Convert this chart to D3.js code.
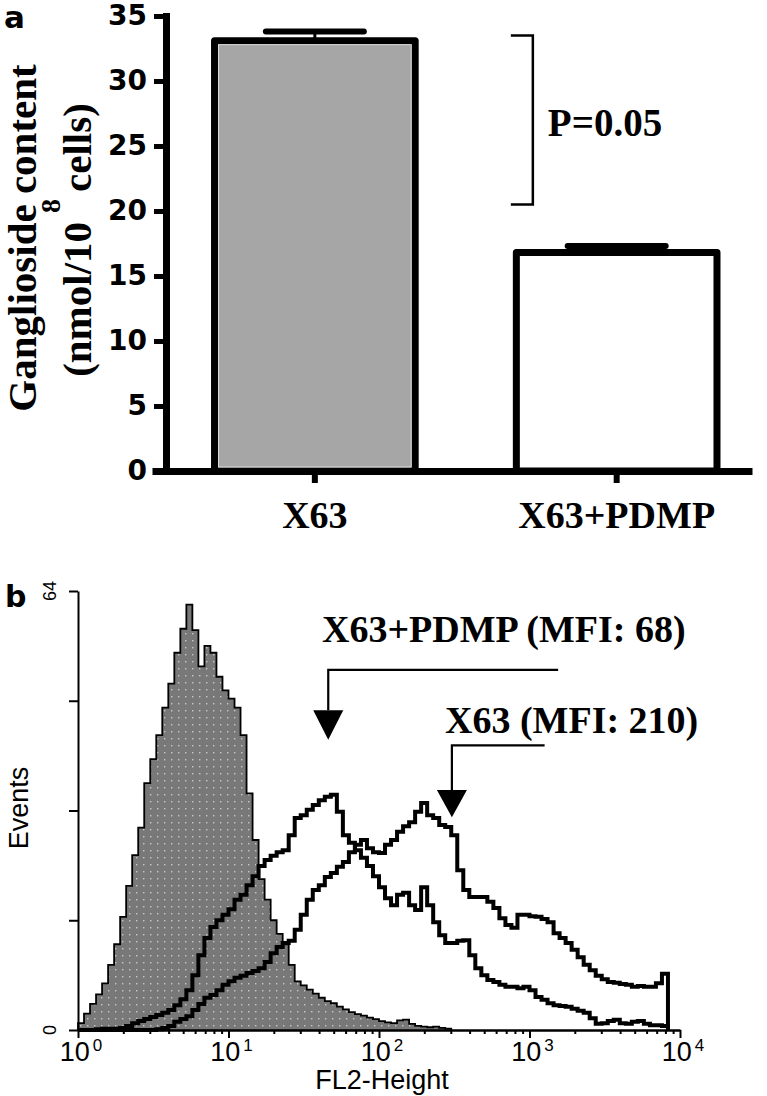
<!DOCTYPE html>
<html>
<head>
<meta charset="utf-8">
<script src="https://cdn.jsdelivr.net/npm/d3@7"></script>
<style>
body { margin: 0; background: #fff; }
svg { display: block; }
.serif { font-family: "Liberation Serif", "Times New Roman", serif; font-weight: bold; }
.sans { font-family: "Liberation Sans", Arial, sans-serif; }
.wide { font-family: "DejaVu Sans", Verdana, sans-serif; font-weight: bold; }
</style>
</head>
<body>
<svg id="fig"></svg>
<script>
// ---- panel a data
var barCategories = ["X63", "X63+PDMP"]
var barMeans = [33.1, 16.8]
var barErrors = [0.7, 0.5]
var yTicksA = [0, 5, 10, 15, 20, 25, 30, 35]
var bracketRange = [20.5, 33.5]
var pLabel = "P=0.05"

// ---- panel b data (events per channel, 100 log channels over 4 decades)
var decadeTicks = [1, 10, 100, 1000, 10000]
var decadeExponents = ["0", "1", "2", "3", "4"]
var eventTicks = [0, 16, 32, 48, 64]
var eventLabels = [0, 64]
var controlCounts = [1.0, 2.4, 3.8, 5.2, 6.8, 9.5, 12.5, 16.5, 21, 25.5,
    29.5, 36, 39.5, 43, 47, 50.5, 55, 58.5, 62, 58.3,
    53, 56, 55, 51.5, 49.5, 48.3, 47, 43, 34.5, 27.7,
    22, 19, 16, 14, 12.5, 9.5, 7.1, 6.5, 5.9, 5.3,
    4.7, 4.2, 3.9, 3.4, 3.0, 2.6, 2.3, 2.1, 1.8, 1.6,
    1.3, 1.1, 1.0, 1.4, 1.5, 0.9, 0.6, 0.5, 0.4, 0.5,
    0.3, 0.2]
var pdmpCounts = [0, 0, 0, 0.1, 0.2, 0.2, 0.2, 0.3, 0.6, 1.0,
    1.3, 1.6, 1.9, 2.2, 2.5, 2.9, 3.6, 4.5, 5.8, 8.0,
    10.9, 13.4, 15.0, 16.0, 16.8, 17.6, 19.0, 19.7, 21.1, 22.4,
    23.9, 24.8, 25.4, 25.9, 26.2, 28.4, 30.9, 31.3, 32.1, 32.8,
    33.5, 34.0, 34.3, 31.8, 28.4, 27.3, 26.2, 25.1, 23.9, 22.4,
    20.8, 19.2, 18.2, 19.7, 20.0, 18.2, 17.5, 20.8, 18.2, 15.7,
    13.8, 12.7, 12.7, 13.0, 13.1, 10.9, 9.0, 8.0, 7.3, 7.0,
    6.6, 6.3, 6.3, 6.1, 6.3, 5.8, 4.8, 4.4, 3.9, 3.6,
    3.5, 3.4, 3.1, 2.8, 2.5, 1.7, 0.9, 1.0, 1.3, 1.5,
    1.0, 0.9, 1.2, 1.3, 0.9, 0.7, 0.7, 0.6]
var x63Counts = [0, 0, 0, 0, 0, 0, 0, 0, 0, 0,
    0, 0, 0, 0.1, 0.3, 0.6, 1.2, 1.6, 2.0, 2.9,
    3.8, 4.7, 5.1, 5.8, 6.6, 7.1, 7.6, 7.9, 8.3, 8.6,
    9.0, 9.9, 11.2, 12.1, 12.7, 13.0, 14.6, 16.8, 19.0, 20.4,
    21.1, 22.3, 22.9, 23.8, 24.5, 25.9, 27.0, 27.7, 26.5, 25.9,
    25.8, 27.0, 27.7, 28.9, 29.7, 30.3, 31.8, 33.1, 31.3, 30.9,
    29.9, 29.6, 28.4, 23.3, 20.4, 19.4, 19.4, 19.4, 18.7, 17.8,
    16.3, 15.3, 14.9, 16.8, 16.8, 16.6, 16.5, 16.2, 15.7, 14.1,
    13.4, 12.7, 11.7, 10.6, 9.5, 8.7, 7.9, 7.4, 7.0, 6.9,
    6.7, 6.6, 6.3, 6.4, 6.3, 6.3, 6.8, 8.2]
var mfiLabels = ["X63+PDMP (MFI: 68)", "X63 (MFI: 210)"]
var arrowAt = [46, 305]

var svgw = 767
var svgh = 1096
var nChannels = 100

var svg = d3.select("#fig")
    .attr("width", svgw)
    .attr("height", svgh)

// ================= panel a =================
var drawPanelA = function(target)
{
    var yScale = d3.scaleLinear().domain([0, 35]).range([471, 16])
    var xScale = d3.scaleBand().domain(barCategories)
        .range([152, 752]).paddingInner(0.312).paddingOuter(0.15).align(0.652)

    // bars
    target.append("g").selectAll("rect")
        .data(barMeans)
        .enter()
        .append("rect")
        .attr("x", function(d, i){return xScale(barCategories[i]) + 3.5})
        .attr("y", function(d){return yScale(d)})
        .attr("width", xScale.bandwidth() - 7)
        .attr("height", function(d){return yScale(0) - yScale(d)})
        .attr("fill", function(d, i){return i == 0 ? "#a6a6a6" : "#ffffff"})
        .attr("stroke", "#000")
        .attr("stroke-width", 7)
        .attr("stroke-linejoin", "round")
    // faint inner edge of the grey bar
    target.append("rect")
        .attr("x", xScale(barCategories[0]) + 7.5)
        .attr("y", yScale(barMeans[0]) + 4)
        .attr("width", xScale.bandwidth() - 15)
        .attr("height", yScale(0) - yScale(barMeans[0]) - 8)
        .attr("fill", "none")
        .attr("stroke", "#dcdcdc")
        .attr("stroke-width", 1)

    // error bars
    var err = target.append("g")
    err.selectAll("line.stem")
        .data(barMeans)
        .enter()
        .append("line")
        .attr("x1", function(d, i){return xScale(barCategories[i]) + xScale.bandwidth()/2})
        .attr("x2", function(d, i){return xScale(barCategories[i]) + xScale.bandwidth()/2})
        .attr("y1", function(d){return yScale(d)})
        .attr("y2", function(d, i){return yScale(d + barErrors[i])})
        .attr("stroke", "#000").attr("stroke-width", 3)
    err.selectAll("line.cap")
        .data(barMeans)
        .enter()
        .append("line")
        .attr("x1", function(d, i){return xScale(barCategories[i]) + xScale.bandwidth()/2 - 49})
        .attr("x2", function(d, i){return xScale(barCategories[i]) + xScale.bandwidth()/2 + 49})
        .attr("y1", function(d, i){return yScale(d + barErrors[i])})
        .attr("y2", function(d, i){return yScale(d + barErrors[i])})
        .attr("stroke", "#000").attr("stroke-width", 6).attr("stroke-linecap", "round")

    // significance bracket
    var bx = xScale(barCategories[1]) + 20
    target.append("path")
        .attr("d", "M" + (bx - 22) + "," + yScale(bracketRange[1]) + "H" + bx +
            "V" + yScale(bracketRange[0]) + "H" + (bx - 22))
        .attr("fill", "none").attr("stroke", "#000").attr("stroke-width", 2.5)
    target.append("text")
        .text(pLabel)
        .classed("serif", true)
        .attr("x", bx + 15)
        .attr("y", yScale((bracketRange[0] + bracketRange[1]) / 2) + 16)
        .style("font-size", "39px")

    // axes
    var yAxis = d3.axisLeft(yScale).tickValues(yTicksA).tickSize(12).tickSizeOuter(0).tickPadding(7)
    var ya = target.append("g")
        .attr("transform", "translate(166,0)")
        .call(yAxis)
    ya.select(".domain").attr("stroke-width", 7).attr("stroke-linecap", "square")
    ya.selectAll(".tick line").attr("stroke-width", 5)
    ya.selectAll(".tick text")
        .classed("wide", true)
        .style("font-size", "28px")
        .attr("fill", "#000")

    var xAxis = d3.axisBottom(xScale).tickSize(12).tickSizeOuter(0)
    var xa = target.append("g")
        .attr("transform", "translate(0," + yScale(0) + ")")
        .call(xAxis)
    xa.select(".domain").attr("stroke-width", 7)
    xa.selectAll(".tick line").attr("stroke-width", 6)
    xa.selectAll(".tick text")
        .classed("serif", true)
        .attr("y", 57)
        .attr("dy", null)
        .style("font-size", "38px")
        .attr("fill", "#000")

    // labels
    target.append("text").text("a")
        .classed("wide", true)
        .attr("x", 4).attr("y", 28)
        .style("font-size", "31px")
    target.append("text").text("Ganglioside content")
        .classed("serif", true)
        .attr("text-anchor", "middle")
        .attr("transform", "translate(36,238) rotate(-90)")
        .style("font-size", "41px")
    var t2 = target.append("text")
        .classed("serif", true)
        .attr("text-anchor", "middle")
        .attr("transform", "translate(91,240) rotate(-90)")
        .style("font-size", "41px")
    t2.append("tspan").text("(nmol/10")
    t2.append("tspan").text("8").style("font-size", "28px").attr("dx", 9).attr("dy", -31)
    t2.append("tspan").text("cells)").attr("dx", 7).attr("dy", 31)
}

// ================= panel b =================
var drawPanelB = function(target)
{
    var xScale = d3.scaleLog().domain([1, 10000]).range([78, 680])
    var yScale = d3.scaleLinear().domain([0, 64]).range([1030, 591])
    var channelEdges = d3.range(nChannels + 1).map(function(i){return Math.pow(10, i * 4 / nChannels)})

    var stepPoints = function(counts)
    {
        var pts = counts.map(function(c, i){return [channelEdges[i], c]})
        pts.unshift([channelEdges[0], 0])
        pts.push([channelEdges[counts.length], 0])
        return pts
    }
    var area = d3.area()
        .x(function(d){return xScale(d[0])})
        .y0(yScale(0))
        .y1(function(d){return yScale(d[1])})
        .curve(d3.curveStepAfter)
    var line = d3.line()
        .x(function(d){return xScale(d[0])})
        .y(function(d){return yScale(d[1])})
        .curve(d3.curveStepAfter)

    // dotted grey fill
    var pat = svg.append("defs").append("pattern")
        .attr("id", "dots")
        .attr("patternUnits", "userSpaceOnUse")
        .attr("width", 7).attr("height", 7)
    pat.append("rect").attr("width", 7).attr("height", 7).attr("fill", "#787878")
    pat.append("rect").attr("x", 3).attr("y", 3).attr("width", 1.4).attr("height", 1.4).attr("fill", "#c8c8c8")

    var ctrl = stepPoints(controlCounts)
    target.append("path").datum(ctrl)
        .attr("d", area)
        .attr("fill", "url(#dots)")
    target.append("path").datum(ctrl)
        .attr("d", line)
        .attr("fill", "none").attr("stroke", "#000").attr("stroke-width", 1.8)

    target.selectAll("path.hist")
        .data([x63Counts, pdmpCounts])
        .enter()
        .append("path")
        .classed("hist", true)
        .attr("d", function(d){return line(stepPoints(d))})
        .attr("fill", "none")
        .attr("stroke", "#000")
        .attr("stroke-width", 4)

    // axes
    var yAxis = d3.axisLeft(yScale).tickValues(eventTicks).tickSize(9).tickSizeOuter(0).tickFormat("")
    var ya = target.append("g").attr("transform", "translate(78,0)").call(yAxis)
    ya.select(".domain").attr("stroke-width", 2)
    ya.selectAll(".tick line").attr("stroke-width", 2)

    var minorTicks = []
    decadeTicks.slice(0, 4).forEach(function(d){
        d3.range(2, 10).forEach(function(m){minorTicks.push(d * m)})
    })
    var xMinor = d3.axisBottom(xScale).tickValues(minorTicks).tickSize(4).tickSizeOuter(0).tickFormat("")
    var xm = target.append("g").attr("transform", "translate(0,1030)").call(xMinor)
    xm.select(".domain").attr("stroke-width", 2.5)
    xm.selectAll(".tick line").attr("stroke-width", 2)
    var xMajor = d3.axisBottom(xScale).tickValues(decadeTicks).tickSize(8).tickSizeOuter(0).tickFormat("")
    var xM = target.append("g").attr("transform", "translate(0,1030)").call(xMajor)
    xM.select(".domain").remove()
    xM.selectAll(".tick line").attr("stroke-width", 2)

    var dl = target.append("g").selectAll("text")
        .data(decadeTicks)
        .enter()
        .append("text")
        .classed("sans", true)
        .attr("text-anchor", "middle")
        .attr("x", function(d){return xScale(d) + 3})
        .attr("y", 1061)
        .style("font-size", "27px")
    dl.append("tspan").text("10")
    dl.append("tspan").text(function(d, i){return decadeExponents[i]})
        .attr("dx", 3).attr("dy", -10).style("font-size", "17px")

    target.append("g").selectAll("text")
        .data(eventLabels)
        .enter()
        .append("text")
        .classed("sans", true)
        .text(function(d){return d})
        .attr("text-anchor", "middle")
        .attr("transform", function(d){return "translate(56," + yScale(d) + ") rotate(-90)"})
        .style("font-size", "18px")

    target.append("text").text("FL2-Height")
        .classed("sans", true)
        .attr("text-anchor", "middle")
        .attr("x", 382).attr("y", 1089)
        .style("font-size", "27px")
    target.append("text").text("Events")
        .classed("sans", true)
        .attr("text-anchor", "middle")
        .attr("transform", "translate(28,808) rotate(-90)")
        .style("font-size", "27px")
    target.append("text").text("b")
        .classed("wide", true)
        .attr("x", 5).attr("y", 607)
        .style("font-size", "30px")

    // MFI annotations: label, elbow line and arrow head
    var labelLevel = [56.6, 43.3]
    var labelX = [322, 445]
    var elbowLevel = [52.5, 41.5]
    var elbowEnd = [1550, 1260]
    var headTop = [46.6, 35]
    var headTip = [42.3, 31]
    mfiLabels.forEach(function(lbl, i)
    {
        var ax = xScale(arrowAt[i])
        target.append("text").text(lbl)
            .classed("serif", true)
            .attr("x", labelX[i]).attr("y", yScale(labelLevel[i]))
            .style("font-size", "38px")
        target.append("path")
            .attr("d", "M" + xScale(elbowEnd[i]) + "," + yScale(elbowLevel[i]) + "H" + ax + "V" + yScale(headTop[i]))
            .attr("fill", "none").attr("stroke", "#000").attr("stroke-width", 2.2)
        target.append("path")
            .attr("d", "M" + (ax - 15) + "," + yScale(headTop[i]) + "L" + (ax + 15) + "," + yScale(headTop[i]) +
                "L" + ax + "," + yScale(headTip[i]) + "Z")
            .attr("fill", "#000")
    })
}

drawPanelA(svg.append("g").attr("id", "panelA"))
drawPanelB(svg.append("g").attr("id", "panelB"))
</script>
</body>
</html>
